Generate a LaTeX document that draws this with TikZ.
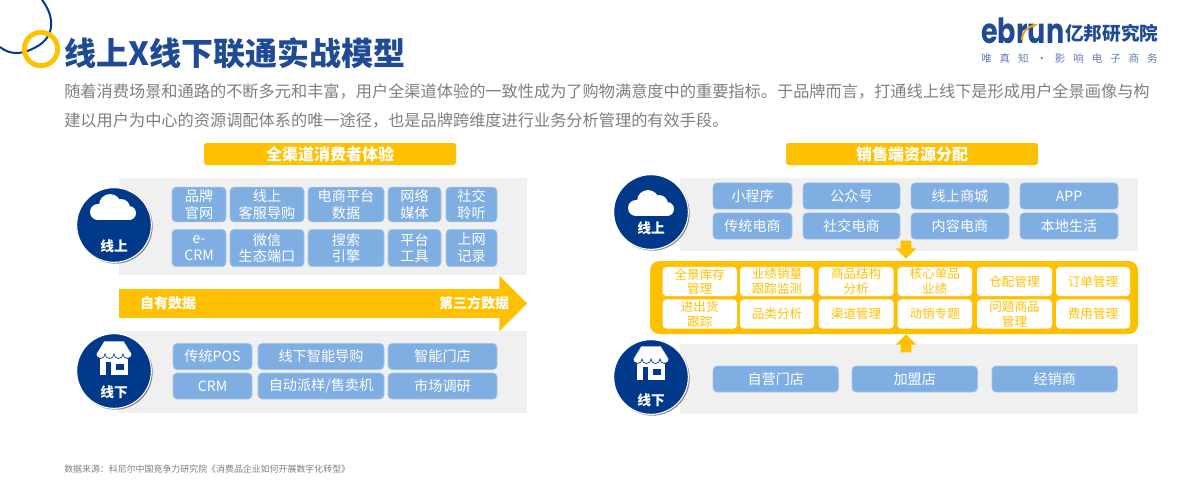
\documentclass[tikz,border=0pt]{standalone}
\usepackage{fontspec}
\setmainfont{Noto Sans CJK SC}
\newfontfamily\logolatin{Poppins}
\newfontfamily\logosub[LetterSpace=75]{Noto Sans CJK SC}
\usetikzlibrary{arrows.meta, shapes.arrows, shadows}
\definecolor{navy}{HTML}{00398A}
\definecolor{titleblue}{HTML}{1F4A94}
\definecolor{amber}{HTML}{FFC000}
\definecolor{chipblue}{HTML}{7FAEE2}
\definecolor{panelgray}{HTML}{F0F0F0}
\definecolor{textgray}{HTML}{7F7F7F}
\definecolor{logoorange}{HTML}{F0A020}

\begin{document}
\begin{tikzpicture}[
  x=0.75pt, y=-0.75pt,
  panel/.style={rectangle, fill=panelgray, inner sep=0pt, minimum height={#1*0.75pt}},
  chip/.style={rectangle, draw=chipblue!70!white, fill=chipblue, rounded corners=3pt, text=white, align=center, inner sep=0pt, font=\fontsize{10.6}{12.5}\selectfont},
  cell/.style={rectangle, fill=white, rounded corners=3pt, text=amber, align=center, inner sep=0pt, font=\fontsize{9.4}{11}\selectfont},
  pill/.style={rectangle, fill=amber, rounded corners=2pt, text=white, inner sep=0pt, minimum width=189pt, minimum height=16.5pt, font=\fontsize{12}{14}\selectfont\bfseries},
  badge/.style={circle, draw=white, line width=0.8pt, fill=navy, minimum size=56pt, inner sep=0pt, drop shadow={shadow xshift=1pt, shadow yshift=-1pt, opacity=0.45, fill=black}},
  badgetext/.style={text=white, inner sep=0pt, font=\fontsize{10.3}{12}\selectfont\bfseries},
  bigarrow/.style={single arrow, fill=amber, inner sep=10.5pt, single arrow head extend=10.1pt},
  smallarrow/.style={single arrow, fill=amber, inner sep=3.75pt, single arrow head extend=3.75pt, minimum height=13.5pt},
  flowtext/.style={text=white, inner sep=0pt, font=\fontsize{10.5}{12}\selectfont\bfseries},
  cloudicon/.pic={
    \fill[white] (-15,5) circle[radius=8] (-3,-2) circle[radius=11] (8,1) circle[radius=9] (16,6) circle[radius=7];
    \fill[white] (-15,4) rectangle (16,13);
  },
  shopicon/.pic={
    \fill[white] (-13.7,-4) rectangle (13.7,16);
    \fill[navy] (-8.5,3) rectangle (-3.3,16);
    \fill[navy] (2,5) rectangle (10.3,11);
    \filldraw[fill=white, draw=navy, line width=0.5pt] (-10,-18) -- (10,-18) -- (18,-5)
      arc[start angle=0, end angle=180, radius=4.5] arc[start angle=0, end angle=180, radius=4.5]
      arc[start angle=0, end angle=180, radius=4.5] arc[start angle=0, end angle=180, radius=4.5] -- cycle;
  }
]
\useasboundingbox (0,0) rectangle (1200,480);
\fill[white] (0,0) rectangle (1200,480);

% Header
\draw[navy, line width=1.5pt] (42,0) .. controls (56,18) and (54,38) .. (36,47) .. controls (22,55) and (10,55) .. (0,47);
\node[circle, draw=amber, line width=3.6pt, minimum size=25pt, inner sep=0pt] (ring) at (41,49) {};
\node[anchor=west, inner sep=0pt, text=titleblue, font=\fontsize{24}{28}\selectfont\bfseries] (title) at (64,53) {线上X线下联通实战模型};
\node[anchor=west, inner sep=0pt, text=textgray, font=\fontsize{12.15}{14}\selectfont] (intro1) at (64,91) {随着消费场景和通路的不断多元和丰富，用户全渠道体验的一致性成为了购物满意度中的重要指标。于品牌而言，打通线上线下是形成用户全景画像与构};
\node[anchor=west, inner sep=0pt, text=textgray, font=\fontsize{12.15}{14}\selectfont] (intro2) at (64,120) {建以用户为中心的资源调配体系的唯一途径，也是品牌跨维度进行业务分析管理的有效手段。};

% Logo
\node[anchor=base west, inner sep=0pt, text=titleblue, xscale=0.78, transform shape, font=\logolatin\fontsize{26}{28}\selectfont\bfseries] (ebrun) at (981,43) {ebrun};
\draw[logoorange, line width=1.5pt, -{Stealth[length=4pt]}] (1022,40) .. controls (1022,31) and (1028,27) .. (1038,24);
\node[anchor=west, inner sep=0pt, text=titleblue, font=\fontsize{14}{16}\selectfont\bfseries] (yibang) at (1065,33) {亿邦研究院};
\node[anchor=west, inner sep=0pt, text=titleblue!70, font=\logosub\fontsize{7.9}{9}\selectfont] (slogan) at (981,58) {唯真知·影响电子商务};

% Left side
\node[pill] (lhead) at (330,154) {全渠道消费者体验};
\node[panel=97, minimum width=306pt] (lpanela) at (323,226.5) {};
\node[panel=82, minimum width=306pt] (lpanelb) at (323,372) {};

\foreach \nm/\xa/\xb/\txt in {a/172/226/品牌\\官网, b/230/304/线上\\客服导购, c/308/384/电商平台\\数据, d/388/441/网络\\媒体, e/446/497/社交\\聆听} {
  \node[chip, minimum width={(\xb-\xa)*0.75pt}, minimum height=26.2pt] (lt\nm) at ({(\xa+\xb)/2},204.5) {\txt};
}
\foreach \nm/\xa/\xb/\txt in {a/172/226/e-\\CRM, b/230/304/微信\\生态端口, c/308/384/搜索\\引擎, d/388/441/平台\\工具, e/446/497/上网\\记录} {
  \node[chip, minimum width={(\xb-\xa)*0.75pt}, minimum height=28pt] (lb\nm) at ({(\xa+\xb)/2},248) {\txt};
}

\node[bigarrow, minimum height=306pt] (flow) at (316,303.5) {};
\node[flowtext] (own) at (168,303) {自有数据};
\node[flowtext] (third) at (474,303) {第三方数据};

\foreach \nm/\xa/\xb/\txt in {a/173/252/传统POS, b/258/384/线下智能导购, c/388/497/智能门店} {
  \node[chip, minimum width={(\xb-\xa)*0.75pt}, minimum height=19.5pt] (lc\nm) at ({(\xa+\xb)/2},356.5) {\txt};
}
\foreach \nm/\xa/\xb/\txt in {a/173/252/CRM, b/258/384/{自动派样/售卖机}, c/388/497/市场调研} {
  \node[chip, minimum width={(\xb-\xa)*0.75pt}, minimum height=19.5pt] (ld\nm) at ({(\xa+\xb)/2},386) {\txt};
}

\node[badge] (lon) at (114,225) {};
\pic at (113,207) {cloudicon};
\node[badgetext] (lontext) at (114,246) {线上};
\node[badge] (loff) at (114,371) {};
\pic at (114,359) {shopicon};
\node[badgetext] (lofftext) at (114,392) {线下};

% Right side
\node[pill] (rhead) at (912,154) {销售端资源分配};
\node[panel=73, minimum width=343.5pt] (rpanela) at (909,214.5) {};
\node[panel=70, minimum width=343.5pt] (rpanelb) at (909,379) {};

\foreach \nm/\xa/\xb/\txt in {a/713/792/小程序, b/803/900/公众号, c/911/1009/线上商城, d/1020/1118/APP} {
  \node[chip, minimum width={(\xb-\xa)*0.75pt}, minimum height=19.8pt] (rt\nm) at ({(\xa+\xb)/2},196) {\txt};
}
\foreach \nm/\xa/\xb/\txt in {a/713/792/传统电商, b/803/900/社交电商, c/911/1009/内容电商, d/1020/1118/本地生活} {
  \node[chip, minimum width={(\xb-\xa)*0.75pt}, minimum height=19.8pt] (rb\nm) at ({(\xa+\xb)/2},226) {\txt};
}

\node[rectangle, fill=amber, rounded corners=7pt, minimum width=366pt, minimum height=54.75pt, inner sep=0pt] (hub) at (894,297.5) {};
\foreach \nm/\xa/\xb/\txt in {a/662.5/737/全景库存\\管理, b/740/814/业绩销量\\跟踪监测, c/818.6/893.6/商品结构\\分析, d/897.5/972/核心单品\\业绩, e/977/1052/仓配管理, f/1056/1130/订单管理} {
  \node[cell, minimum width={(\xb-\xa)*0.75pt}, minimum height=22pt] (ha\nm) at ({(\xa+\xb)/2},281.5) {\txt};
}
\foreach \nm/\xa/\xb/\txt in {a/662.5/737/进出货\\跟踪, b/740/814/品类分析, c/818.6/893.6/渠道管理, d/897.5/972/动销专题, e/977/1052/问题商品\\管理, f/1056/1130/费用管理} {
  \node[cell, minimum width={(\xb-\xa)*0.75pt}, minimum height=22pt] (hb\nm) at ({(\xa+\xb)/2},314) {\txt};
}

\node[smallarrow, shape border rotate=270] (downarrow) at (906,247) {};
\node[smallarrow, shape border rotate=90] (uparrow) at (906,346) {};

\foreach \nm/\xa/\xb/\txt in {a/713/838.6/自营门店, b/852/977.5/加盟店, c/992/1117.5/经销商} {
  \node[chip, minimum width={(\xb-\xa)*0.75pt}, minimum height=19.5pt] (rc\nm) at ({(\xa+\xb)/2},379) {\txt};
}

\node[badge] (ron) at (651,212) {};
\pic at (651,203) {cloudicon};
\node[badgetext] (rontext) at (651,228) {线上};
\node[badge] (roff) at (651,377) {};
\pic at (651,364) {shopicon};
\node[badgetext] (rofftext) at (651,400) {线下};

% Source line
\node[anchor=west, inner sep=0pt, text=textgray, font=\fontsize{6.7}{8}\selectfont] (source) at (64,469) {数据来源：科尼尔中国竞争力研究院《消费品企业如何开展数字化转型》};

\end{tikzpicture}
\end{document}
